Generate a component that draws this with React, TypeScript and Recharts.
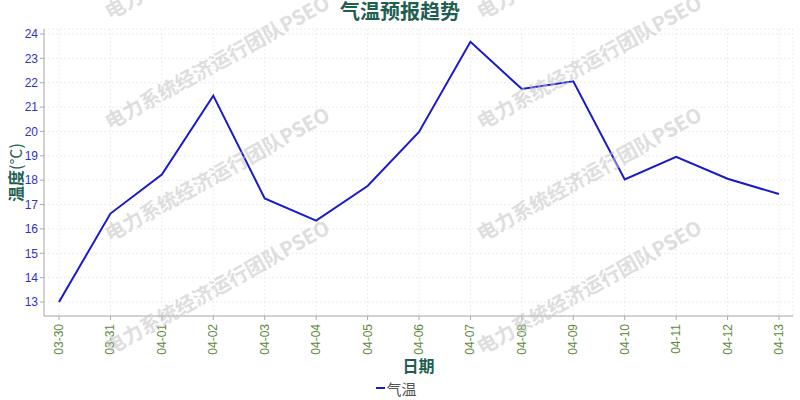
import React from "react";
import { LineChart, Line, XAxis, YAxis, CartesianGrid, Legend } from "recharts";

const dates = [
  "03-30", "03-31", "04-01", "04-02", "04-03", "04-04", "04-05", "04-06",
  "04-07", "04-08", "04-09", "04-10", "04-11", "04-12", "04-13",
];
const temps = [
  13.0, 16.63, 18.23, 21.47, 17.25, 16.34, 17.76, 19.98,
  23.68, 21.74, 22.06, 18.03, 18.96, 18.06, 17.43,
];
const yTicks = [13, 14, 15, 16, 17, 18, 19, 20, 21, 22, 23, 24];

const data = dates.map((d, i) => ({ date: d, temp: temps[i] }));

const FONT = '"Noto Sans CJK SC", "Noto Sans", sans-serif';
const NUM_FONT = '"Liberation Sans", Arial, sans-serif';
const TEAL = "#1f5f52";
const WATERMARK = "电力系统经济运行团队PSEO";

const XTick = (props: any) => {
  const { x, y, payload } = props;
  return (
    <g transform={`translate(${x},${y + 2})`}>
      <text
        transform="rotate(-90)"
        textAnchor="end"
        dy={4}
        fill="#5e8a3c"
        fontSize={12}
        fontFamily={NUM_FONT}
      >
        {payload.value}
      </text>
    </g>
  );
};

const LegendContent = () => (
  <div
    style={{
      display: "flex",
      justifyContent: "center",
      alignItems: "center",
      fontFamily: FONT,
      fontSize: 15,
      color: "#555",
      height: 24,
    }}
  >
    <span style={{ display: "inline-block", width: 9, height: 2, background: "#1a1acc", marginRight: 1 }} />
    气温
  </div>
);

function Watermarks() {
  const cols = [110, 482];
  const rows = [20, 130, 242, 355];
  return (
    <svg
      width={800}
      height={400}
      style={{ position: "absolute", left: 0, top: 0, pointerEvents: "none" }}
    >
      {cols.map((cx) =>
        rows.map((ry) => (
          <text
            key={`${cx}-${ry}`}
            x={cx}
            y={ry}
            transform={`rotate(-29 ${cx} ${ry})`}
            fontFamily={FONT}
            fontWeight="bold"
            fontSize={20}
            fill="#c4c4c4"
            opacity={0.55}
          >
            {WATERMARK}
          </text>
        ))
      )}
    </svg>
  );
}

export default function App() {
  return (
    <div style={{ position: "absolute", left: 0, top: 0, width: 800, height: 400, background: "#fff" }}>
      <div
        style={{
          position: "absolute",
          left: 0,
          top: 0,
          width: 800,
          textAlign: "center",
          fontFamily: FONT,
          fontWeight: "bold",
          fontSize: 20,
          lineHeight: "22px",
          color: TEAL,
        }}
      >
        气温预报趋势
      </div>
      <LineChart width={800} height={400} data={data} margin={{ top: 29, right: 7, left: 0, bottom: 0 }}>
        <CartesianGrid stroke="#ececec" strokeDasharray="2 2" />
        <XAxis
          dataKey="date"
          height={60}
          interval={0}
          padding={{ left: 15, right: 14 }}
          stroke="#aaa"
          tickSize={4}
          tick={<XTick />}
          label={(p: any) => {
            const vb = p.viewBox;
            return (
              <text
                x={vb.x + vb.width / 2}
                y={vb.y + 49}
                textAnchor="middle"
                dominantBaseline="central"
                fill={TEAL}
                fontWeight="bold"
                fontSize={16}
                fontFamily={FONT}
              >
                日期
              </text>
            );
          }}
        />
        <XAxis xAxisId="top" dataKey="date" orientation="top" height={0} tick={false} tickLine={false} stroke="#aaa" padding={{ left: 15, right: 14 }} />
        <YAxis
          width={44}
          domain={[12.425, 24.205]}
          ticks={yTicks}
          allowDataOverflow
          stroke="#aaa"
          tickSize={4}
          tick={{ fill: "#3030d0", fontSize: 12, fontFamily: NUM_FONT }}
          label={(p: any) => {
            const vb = p.viewBox;
            const cx = 15;
            const cy = vb.y + vb.height / 2;
            return (
              <text
                x={cx}
                y={cy}
                transform={`rotate(-90 ${cx} ${cy})`}
                textAnchor="middle"
                dominantBaseline="central"
                fill={TEAL}
                fontSize={16}
                fontFamily={FONT}
              >
                <tspan fontWeight="bold">温度</tspan>
                <tspan fontWeight="normal">(°C)</tspan>
              </text>
            );
          }}
        />
        <YAxis yAxisId="right" orientation="right" width={0} tick={false} tickLine={false} stroke="#aaa" />
        <Legend verticalAlign="bottom" height={24} content={<LegendContent />} />
        <Line
          type="linear"
          dataKey="temp"
          name="气温"
          stroke="#1a1acc"
          strokeWidth={2}
          dot={false}
          activeDot={false}
          isAnimationActive={false}
        />
      </LineChart>
      <Watermarks />
    </div>
  );
}
